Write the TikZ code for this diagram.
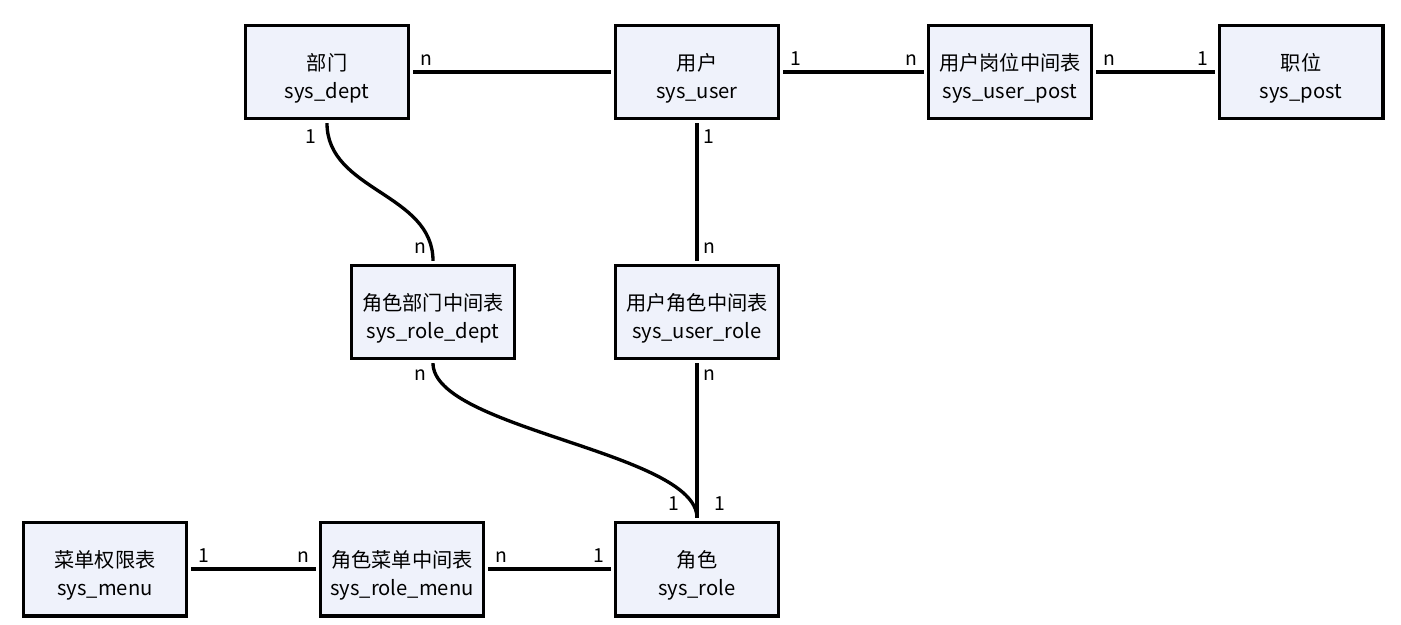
\documentclass[tikz,border=0pt]{standalone}
\usepackage{fontspec}
\setmainfont{Noto Sans CJK SC}
\usetikzlibrary{positioning}
\definecolor{TableFill}{HTML}{EFF2FB}
\newcommand{\tbltext}[2]{\rule{0pt}{17pt}#1\\#2}

\begin{document}
\begin{tikzpicture}[x=0.02cm, y=-0.02cm,
    tbl/.style={draw, line width=2pt, fill=TableFill, minimum width=3.27cm,
        minimum height=1.87cm, align=center, inner sep=2pt, outer sep=2.5pt,
        font=\fontsize{11.5}{15.5}\selectfont},
    rel/.style={line width=1.9pt},
    card/.style={font=\fontsize{11}{13}\selectfont, inner sep=3pt}]
    \useasboundingbox (0,0) rectangle (1401,625);

    % Top row
    \node[tbl] (dept) at (327,72) {\tbltext{部门}{sys\_dept}};
    \node[tbl] (user) at (697,72) {\tbltext{用户}{sys\_user}};
    \node[tbl] (userpost) at (1010,72) {\tbltext{用户岗位中间表}{sys\_user\_post}};
    \node[tbl] (post) at (1301,72) {\tbltext{职位}{sys\_post}};

    % Middle row
    \node[tbl] (roledept) at (433,312) {\tbltext{角色部门中间表}{sys\_role\_dept}};
    \node[tbl] (userrole) at (697,312) {\tbltext{用户角色中间表}{sys\_user\_role}};

    % Bottom row
    \node[tbl] (menu) at (105,569) {\tbltext{菜单权限表}{sys\_menu}};
    \node[tbl] (rolemenu) at (402,569) {\tbltext{角色菜单中间表}{sys\_role\_menu}};
    \node[tbl] (role) at (697,569) {\tbltext{角色}{sys\_role}};

    % Relations along the top
    \draw[rel] (dept.east) -- node[card, pos=0, anchor=south west] {n} (user.west);
    \draw[rel] (user.east) -- node[card, pos=0, anchor=south west] {1}
        node[card, pos=1, anchor=south east] {n} (userpost.west);
    \draw[rel] (userpost.east) -- node[card, pos=0, anchor=south west] {n}
        node[card, pos=1, anchor=south east] {1} (post.west);

    % Relations down to the role
    \draw[rel] (dept.south) to[out=-90, in=90]
        node[card, pos=0, anchor=north east, xshift=-2pt] {1}
        node[card, pos=1, anchor=south east] {n} (roledept.north);
    \draw[rel] (user.south) -- node[card, pos=0, anchor=north west] {1}
        node[card, pos=1, anchor=south west] {n} (userrole.north);
    \draw[rel] (roledept.south) to[out=-90, in=90, looseness=0.55]
        node[card, pos=0, anchor=north east] {n}
        node[card, pos=1, anchor=south east, xshift=-6pt] {1} (role.north);
    \draw[rel] (userrole.south) -- node[card, pos=0, anchor=north west] {n}
        node[card, pos=1, anchor=south west, xshift=6pt] {1} (role.north);

    % Relations along the bottom
    \draw[rel] (menu.east) -- node[card, pos=0, anchor=south west] {1}
        node[card, pos=1, anchor=south east] {n} (rolemenu.west);
    \draw[rel] (rolemenu.east) -- node[card, pos=0, anchor=south west] {n}
        node[card, pos=1, anchor=south east] {1} (role.west);
\end{tikzpicture}
\end{document}
